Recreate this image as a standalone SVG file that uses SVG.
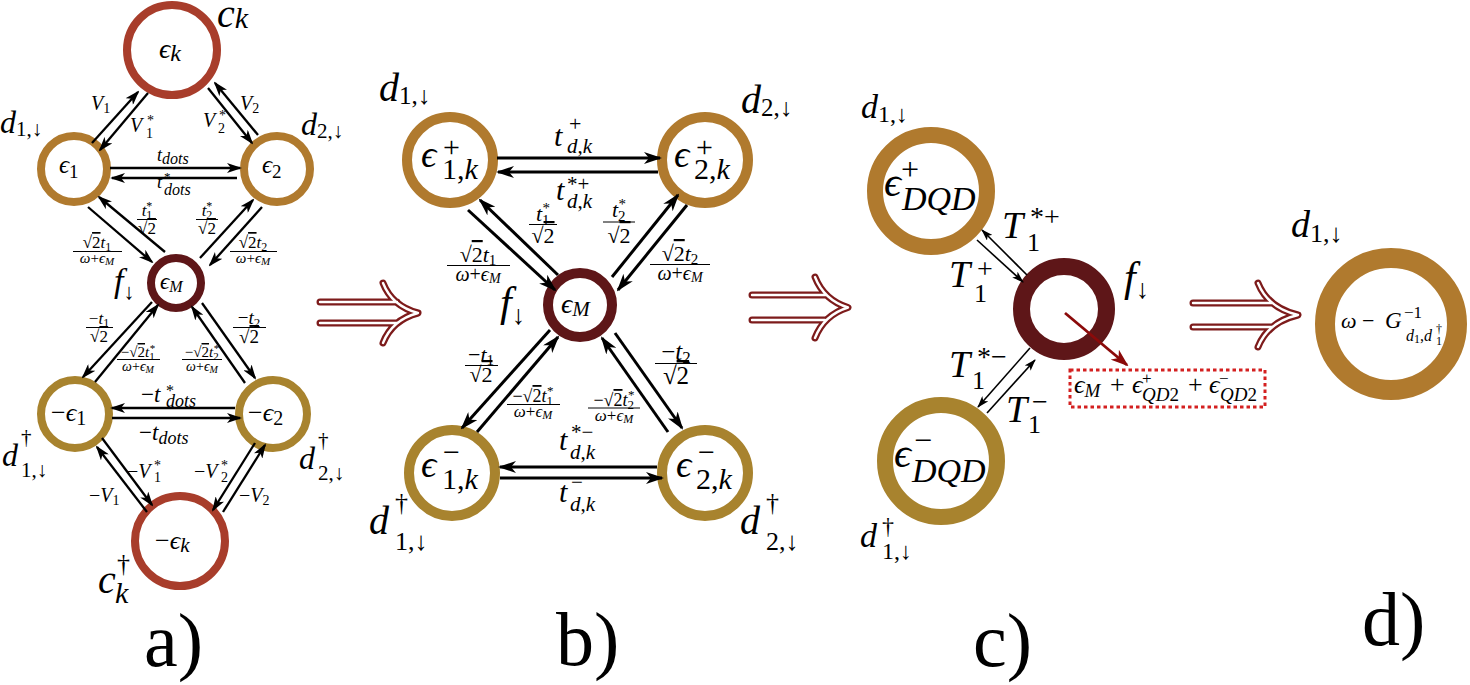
<svg xmlns="http://www.w3.org/2000/svg" width="1470" height="685" viewBox="0 0 1470 685">
<style>
.i{font-family:"Liberation Serif",serif;font-style:italic}
.u{font-family:"Liberation Serif",serif;font-style:normal}
.ov{text-decoration:overline}
.ring{fill:none}
.g1{stroke:#b07a2e}
.g2{stroke:#a8832e}
.rd{stroke:#a83d2b}
.mr{stroke:#5e1618}
.ca line{stroke:#000;stroke-width:2.3;marker-end:url(#ha)}
.cb line{stroke:#000;stroke-width:3;marker-end:url(#hb)}
.cc line{stroke:#000;stroke-width:1.6;marker-end:url(#hc)}
.bar{stroke:#000;stroke-width:1}
.imp .o{fill:none;stroke:#7d1b1b;stroke-width:7;stroke-linecap:round;stroke-linejoin:round}
.imp .w{fill:none;stroke:#fff;stroke-width:2.4;stroke-linecap:round;stroke-linejoin:round}
</style>
<defs>
<marker id="ha" viewBox="0 0 15 10" refX="13" refY="5" markerWidth="15" markerHeight="10" markerUnits="userSpaceOnUse" orient="auto"><path d="M0,0 L15,5 L0,10 L4,5 z"/></marker>
<marker id="hb" viewBox="0 0 18 12" refX="16" refY="6" markerWidth="18" markerHeight="12" markerUnits="userSpaceOnUse" orient="auto"><path d="M0,0 L18,6 L0,12 L5,6 z"/></marker>
<marker id="hc" viewBox="0 0 12 8" refX="11" refY="4" markerWidth="12" markerHeight="8" markerUnits="userSpaceOnUse" orient="auto"><path d="M0,0 L12,4 L0,8 L3,4 z"/></marker>
<marker id="hr" viewBox="0 0 18 13" refX="16" refY="6.5" markerWidth="18" markerHeight="13" markerUnits="userSpaceOnUse" orient="auto"><path d="M0,0 L18,6.5 L0,13 L5,6.5 z" fill="#8b0a0a"/></marker>
</defs>

<!-- ================= PANEL A ================= -->
<g id="a-ck">
<circle class="ring rd" cx="172" cy="50" r="45" stroke-width="8"/>
<text class="i" x="159" y="58" font-size="28">ϵ<tspan class="i" font-size="24" dy="3">k</tspan></text>
<text class="i" x="217" y="27" font-size="40">c<tspan class="i" font-size="30" dy="1">k</tspan></text>
</g>
<g id="a-e1">
<circle class="ring g1" cx="74" cy="169" r="33" stroke-width="8"/>
<text class="i" x="59" y="173" font-size="25">ϵ<tspan class="u" font-size="19" dy="5">1</tspan></text>
<text class="i" x="0" y="133" font-size="32">d<tspan class="u" font-size="21" dy="3">1,↓</tspan></text>
</g>
<g id="a-e2">
<circle class="ring g1" cx="277" cy="169" r="33" stroke-width="8"/>
<text class="i" x="262" y="173" font-size="25">ϵ<tspan class="u" font-size="19" dy="5">2</tspan></text>
<text class="i" x="301" y="135" font-size="32">d<tspan class="u" font-size="21" dy="3">2,↓</tspan></text>
</g>
<g id="a-eM">
<circle class="ring mr" cx="176" cy="283" r="25" stroke-width="8"/>
<text class="i" x="160" y="289" font-size="23">ϵ<tspan class="i" font-size="16" dy="3">M</tspan></text>
<text class="i" x="114" y="292" font-size="34">f<tspan class="u" font-size="22" dy="7">↓</tspan></text>
</g>
<g id="a-me1">
<circle class="ring g2" cx="75" cy="414" r="34" stroke-width="8"/>
<text class="u" x="51" y="421" font-size="26">−<tspan class="i">ϵ</tspan><tspan class="u" font-size="20" dy="4">1</tspan></text>
<text class="i" x="2" y="466" font-size="32">d</text>
<text class="u" x="21" y="444" font-size="21">†</text>
<text class="u" x="21" y="477" font-size="21">1,↓</text>
</g>
<g id="a-me2">
<circle class="ring g2" cx="273" cy="414" r="34" stroke-width="8"/>
<text class="u" x="248" y="421" font-size="26">−<tspan class="i">ϵ</tspan><tspan class="u" font-size="20" dy="4">2</tspan></text>
<text class="i" x="299" y="469" font-size="32">d</text>
<text class="u" x="318" y="447" font-size="21">†</text>
<text class="u" x="318" y="480" font-size="21">2,↓</text>
</g>
<g id="a-mek">
<circle class="ring rd" cx="180" cy="541" r="45" stroke-width="8"/>
<text class="u" x="155" y="549" font-size="26">−<tspan class="i">ϵ</tspan><tspan class="i" font-size="21" dy="3">k</tspan></text>
<text class="i" x="98" y="593" font-size="40">c</text>
<text class="u" x="117" y="572" font-size="26">†</text>
<text class="i" x="115" y="603" font-size="30">k</text>
</g>

<!-- ================= PANEL B ================= -->
<g id="b-e1p">
<circle class="ring g1" cx="450" cy="160" r="43" stroke-width="10"/>
<text class="i" x="421" y="167" font-size="38">ϵ</text>
<text class="u" x="443" y="157" font-size="30">+</text>
<text class="u" x="442" y="179" font-size="30">1,<tspan class="i">k</tspan></text>
<text class="i" x="379" y="101" font-size="40">d<tspan class="u" font-size="25" dy="3">1,↓</tspan></text>
</g>
<g id="b-e2p">
<circle class="ring g1" cx="705" cy="160" r="43" stroke-width="10"/>
<text class="i" x="674" y="167" font-size="38">ϵ</text>
<text class="u" x="696" y="157" font-size="30">+</text>
<text class="u" x="694" y="179" font-size="30">2,<tspan class="i">k</tspan></text>
<text class="i" x="741" y="113" font-size="40">d<tspan class="u" font-size="25" dy="3">2,↓</tspan></text>
</g>
<g id="b-eM">
<circle class="ring mr" cx="580" cy="305" r="32" stroke-width="10"/>
<text class="i" x="561" y="313" font-size="28">ϵ<tspan class="i" font-size="21" dy="3">M</tspan></text>
<text class="i" x="500" y="316" font-size="42">f<tspan class="u" font-size="27" dy="8">↓</tspan></text>
</g>
<g id="b-e1m">
<circle class="ring g2" cx="452" cy="473" r="43" stroke-width="10"/>
<text class="i" x="421" y="477" font-size="38">ϵ</text>
<text class="u" x="443" y="462" font-size="30">−</text>
<text class="u" x="442" y="489" font-size="30">1,<tspan class="i">k</tspan></text>
<text class="i" x="369" y="534" font-size="40">d</text>
<text class="u" x="395" y="511" font-size="26">†</text>
<text class="u" x="395" y="550" font-size="26">1,↓</text>
</g>
<g id="b-e2m">
<circle class="ring g2" cx="705" cy="473" r="43" stroke-width="10"/>
<text class="i" x="676" y="477" font-size="38">ϵ</text>
<text class="u" x="698" y="462" font-size="30">−</text>
<text class="u" x="696" y="489" font-size="30">2,<tspan class="i">k</tspan></text>
<text class="i" x="740" y="534" font-size="40">d</text>
<text class="u" x="766" y="511" font-size="26">†</text>
<text class="u" x="766" y="550" font-size="26">2,↓</text>
</g>

<!-- ================= PANEL C ================= -->
<g id="c-ep">
<circle class="ring g1" cx="931" cy="191" r="56" stroke-width="16"/>
<text class="i" x="884" y="196" font-size="42">ϵ</text>
<text class="u" x="901" y="180" font-size="32">+</text>
<text class="i" x="902" y="210" font-size="34">DQD</text>
<text class="i" x="861" y="118" font-size="34">d<tspan class="u" font-size="24" dy="4">1,↓</tspan></text>
</g>
<g id="c-f">
<circle class="ring mr" cx="1064" cy="309" r="42.5" stroke-width="17"/>
<text class="i" x="1124" y="291" font-size="42">f<tspan class="u" font-size="27" dy="7">↓</tspan></text>
</g>
<g id="c-em">
<circle class="ring g2" cx="941" cy="461" r="56" stroke-width="16"/>
<text class="i" x="894" y="467" font-size="42">ϵ</text>
<text class="u" x="914" y="451" font-size="32">−</text>
<text class="i" x="912" y="482" font-size="34">DQD</text>
<text class="i" x="860" y="547" font-size="34">d</text>
<text class="u" x="882" y="534" font-size="24">†</text>
<text class="u" x="882" y="559" font-size="24">1,↓</text>
</g>
<g id="c-sum">
<rect x="1070" y="370" width="195" height="37" fill="none" stroke="#d42020" stroke-width="3" stroke-dasharray="3.5,3"/>
<text class="i" x="1074" y="393" font-size="26">ϵ<tspan class="i" font-size="19" dy="4">M</tspan></text>
<text class="u" x="1110" y="393" font-size="26">+</text>
<text class="i" x="1132" y="393" font-size="26">ϵ</text>
<text class="u" x="1142" y="384" font-size="17">+</text>
<text class="i" x="1142" y="401" font-size="19">QD<tspan class="u">2</tspan></text>
<text class="u" x="1188" y="393" font-size="26">+</text>
<text class="i" x="1209" y="393" font-size="26">ϵ</text>
<text class="u" x="1219" y="384" font-size="17">−</text>
<text class="i" x="1220" y="401" font-size="19">QD<tspan class="u">2</tspan></text>
</g>

<!-- ================= PANEL D ================= -->
<g id="d-node">
<circle class="ring g1" cx="1391" cy="324" r="66" stroke-width="20"/>
<text class="i" x="1341" y="328" font-size="22">ω</text>
<text class="u" x="1362" y="328" font-size="22">−</text>
<text class="i" x="1385" y="328" font-size="23">G</text>
<text class="u" x="1404" y="318" font-size="17">−1</text>
<text class="i" x="1406" y="341" font-size="16">d<tspan class="u" font-size="12" dy="2">1</tspan><tspan class="u" dy="-2">,</tspan><tspan class="i">d</tspan></text>
<text class="u" x="1436" y="333" font-size="12">†</text>
<text class="u" x="1436" y="345" font-size="12">1</text>
<text class="i" x="1291" y="237" font-size="38">d<tspan class="u" font-size="26" dy="5">1,↓</tspan></text>
</g>

<!-- panel captions -->
<g id="captions" font-size="76">
<text class="u" x="144" y="666">a)</text>
<text class="u" x="556" y="665">b)</text>
<text class="u" x="973" y="666">c)</text>
<text class="u" x="1362" y="645">d)</text>
</g>

<!-- implies arrows -->
<g id="implies" class="imp">
<path class="o" d="M320,302 H397 M320,323 H397 M383,283 Q392,306 418,313 Q392,320 383,343"/>
<path class="w" d="M320,302 H397 M320,323 H397 M383,283 Q392,306 418,313 Q392,320 383,343"/>
<path class="o" d="M752,295 H825 M752,320 H825 M815,277 Q824,300 848,307.5 Q824,315 815,338"/>
<path class="w" d="M752,295 H825 M752,320 H825 M815,277 Q824,300 848,307.5 Q824,315 815,338"/>
<path class="o" d="M1193,303 H1272 M1193,327 H1272 M1258,283 Q1268,308 1298,315 Q1268,322 1258,347"/>
<path class="w" d="M1193,303 H1272 M1193,327 H1272 M1258,283 Q1268,308 1298,315 Q1268,322 1258,347"/>
</g>

<!-- connectors -->
<g id="connectors">
<g class="ca">
<line x1="92" y1="143" x2="138" y2="92"/>
<line x1="148" y1="93" x2="100" y2="150"/>
<line x1="258" y1="135" x2="215" y2="83"/>
<line x1="208" y1="88" x2="252" y2="143"/>
<line x1="110" y1="168" x2="240" y2="168"/>
<line x1="237" y1="178" x2="112" y2="178"/>
<line x1="88" y1="207" x2="152" y2="262"/>
<line x1="165" y1="252" x2="99" y2="197"/>
<line x1="200" y1="258" x2="253" y2="200"/>
<line x1="262" y1="207" x2="210" y2="265"/>
<line x1="152" y1="302" x2="83" y2="377"/>
<line x1="95" y1="382" x2="158" y2="305"/>
<line x1="202" y1="303" x2="255" y2="378"/>
<line x1="245" y1="383" x2="192" y2="307"/>
<line x1="235" y1="408" x2="112" y2="408"/>
<line x1="112" y1="418" x2="240" y2="418"/>
<line x1="102" y1="438" x2="152" y2="505"/>
<line x1="147" y1="512" x2="97" y2="447"/>
<line x1="255" y1="443" x2="213" y2="510"/>
<line x1="223" y1="512" x2="265" y2="445"/>
</g>
<g class="cb">
<line x1="497" y1="158" x2="660" y2="158"/>
<line x1="658" y1="172" x2="498" y2="172"/>
<line x1="468" y1="210" x2="555" y2="290"/>
<line x1="558" y1="275" x2="480" y2="200"/>
<line x1="612" y1="277" x2="678" y2="195"/>
<line x1="687" y1="205" x2="618" y2="290"/>
<line x1="550" y1="330" x2="462" y2="428"/>
<line x1="477" y1="432" x2="558" y2="337"/>
<line x1="615" y1="333" x2="682" y2="428"/>
<line x1="668" y1="432" x2="602" y2="338"/>
<line x1="657" y1="467" x2="500" y2="467"/>
<line x1="500" y1="478" x2="662" y2="478"/>
</g>
<g class="cc">
<line x1="1027" y1="275" x2="982" y2="230"/>
<line x1="977" y1="240" x2="1023" y2="282"/>
<line x1="1030" y1="348" x2="978" y2="407"/>
<line x1="987" y1="413" x2="1035" y2="360"/>
</g>
<line x1="1065" y1="313" x2="1127" y2="365" stroke="#8b0a0a" stroke-width="2.8" marker-end="url(#hr)"/>
</g>

<!-- edge labels -->
<g id="edge-labels">
<!-- panel a -->
<text class="i" x="91" y="110" font-size="20">V<tspan class="u" font-size="14" dy="3">1</tspan></text>
<text class="i" x="130" y="132" font-size="20">V</text><text class="u" x="147" y="125" font-size="14">*</text><text class="u" x="146" y="138" font-size="14">1</text>
<text class="i" x="240" y="110" font-size="20">V<tspan class="u" font-size="14" dy="3">2</tspan></text>
<text class="i" x="203" y="127" font-size="20">V</text><text class="u" x="219" y="120" font-size="14">*</text><text class="u" x="218" y="133" font-size="14">2</text>
<text class="i" x="157" y="161" font-size="18">t<tspan class="i" font-size="16" dy="3">dots</tspan></text>
<text class="i" x="157" y="188" font-size="18">t</text><text class="u" x="164" y="181" font-size="13">*</text><text class="i" x="164" y="195" font-size="16">dots</text>

<g font-size="17" text-anchor="middle">
<text class="i" x="147" y="216">t<tspan class="u" font-size="12" dy="3">1</tspan><tspan class="u" font-size="12" dx="-6" dy="-9">*</tspan></text>
<line class="bar" x1="137" y1="219.5" x2="157" y2="219.5"/>
<text class="u" x="147" y="234">√<tspan class="u ov">2</tspan></text>
<text class="i" x="207" y="216">t<tspan class="u" font-size="12" dy="3">2</tspan><tspan class="u" font-size="12" dx="-6" dy="-9">*</tspan></text>
<line class="bar" x1="196" y1="219.5" x2="218" y2="219.5"/>
<text class="u" x="207" y="234">√<tspan class="u ov">2</tspan></text>

<text class="u" x="97" y="248">√<tspan class="u ov">2</tspan><tspan class="i">t</tspan><tspan class="u" font-size="12" dy="3">1</tspan></text>
<line class="bar" x1="73" y1="251.5" x2="122" y2="251.5"/>
<text class="i" x="97" y="263" font-size="15">ω<tspan class="u">+</tspan><tspan class="i">ϵ</tspan><tspan class="i" font-size="11" dy="2">M</tspan></text>
<text class="u" x="253" y="248">√<tspan class="u ov">2</tspan><tspan class="i">t</tspan><tspan class="u" font-size="12" dy="3">2</tspan></text>
<line class="bar" x1="230" y1="251.5" x2="277" y2="251.5"/>
<text class="i" x="253" y="263" font-size="15">ω<tspan class="u">+</tspan><tspan class="i">ϵ</tspan><tspan class="i" font-size="11" dy="2">M</tspan></text>

<text class="u" x="99" y="324">−<tspan class="i">t</tspan><tspan class="u" font-size="12" dy="3">1</tspan></text>
<line class="bar" x1="86" y1="327.5" x2="113" y2="327.5"/>
<text class="u" x="99" y="342">√<tspan class="u ov">2</tspan></text>
<text class="u" x="249" y="324" font-size="19">−<tspan class="i">t</tspan><tspan class="u" font-size="13" dy="3">2</tspan></text>
<line class="bar" x1="233" y1="327.5" x2="266" y2="327.5"/>
<text class="u" x="249" y="343" font-size="19">√<tspan class="u ov">2</tspan></text>

<text class="u" x="138" y="357" font-size="15">−√<tspan class="u ov">2</tspan><tspan class="i">t</tspan><tspan class="u" font-size="11" dy="3">1</tspan><tspan class="u" font-size="11" dx="-5" dy="-8">*</tspan></text>
<line class="bar" x1="117" y1="359.5" x2="160" y2="359.5"/>
<text class="i" x="138" y="371" font-size="14">ω<tspan class="u">+</tspan><tspan class="i">ϵ</tspan><tspan class="i" font-size="10" dy="2">M</tspan></text>
<text class="u" x="202" y="357" font-size="15">−√<tspan class="u ov">2</tspan><tspan class="i">t</tspan><tspan class="u" font-size="11" dy="3">2</tspan><tspan class="u" font-size="11" dx="-5" dy="-8">*</tspan></text>
<line class="bar" x1="182" y1="359.5" x2="222" y2="359.5"/>
<text class="i" x="202" y="371" font-size="14">ω<tspan class="u">+</tspan><tspan class="i">ϵ</tspan><tspan class="i" font-size="10" dy="2">M</tspan></text>
</g>

<text class="u" x="141" y="402" font-size="23">−<tspan class="i">t</tspan></text><text class="u" x="166" y="396" font-size="16">*</text><text class="i" x="166" y="407" font-size="18">dots</text>
<text class="u" x="139" y="440" font-size="23">−<tspan class="i">t</tspan><tspan class="i" font-size="18" dy="4">dots</tspan></text>

<text class="u" x="127" y="478" font-size="20">−<tspan class="i">V</tspan></text><text class="u" x="154" y="470" font-size="14">*</text><text class="u" x="154" y="482" font-size="14">1</text>
<text class="u" x="89" y="502" font-size="20">−<tspan class="i">V</tspan><tspan class="u" font-size="14" dy="3">1</tspan></text>
<text class="u" x="194" y="478" font-size="20">−<tspan class="i">V</tspan></text><text class="u" x="221" y="470" font-size="14">*</text><text class="u" x="221" y="482" font-size="14">2</text>
<text class="u" x="239" y="502" font-size="20">−<tspan class="i">V</tspan><tspan class="u" font-size="14" dy="3">2</tspan></text>

<!-- panel b -->
<text class="i" x="554" y="146" font-size="30">t</text><text class="u" x="569" y="131" font-size="22">+</text><text class="i" x="567" y="153" font-size="21">d<tspan class="u">,</tspan><tspan class="i">k</tspan></text>
<text class="i" x="556" y="200" font-size="30">t</text><text class="u" x="567" y="191" font-size="21">*+</text><text class="i" x="567" y="208" font-size="21">d<tspan class="u">,</tspan><tspan class="i">k</tspan></text>
<text class="i" x="559" y="450" font-size="30">t</text><text class="u" x="571" y="439" font-size="21">*−</text><text class="i" x="570" y="459" font-size="21">d<tspan class="u">,</tspan><tspan class="i">k</tspan></text>
<text class="i" x="559" y="502" font-size="30">t</text><text class="u" x="571" y="489" font-size="21">−</text><text class="i" x="570" y="511" font-size="21">d<tspan class="u">,</tspan><tspan class="i">k</tspan></text>

<g font-size="22" text-anchor="middle">
<text class="i" x="543" y="221">t<tspan class="u" font-size="15" dy="4">1</tspan><tspan class="u" font-size="15" dx="-7" dy="-12">*</tspan></text>
<line class="bar" x1="529" y1="224.5" x2="557" y2="224.5" stroke-width="1.3"/>
<text class="u" x="543" y="243">√<tspan class="u ov">2</tspan></text>
<text class="i" x="619" y="217">t<tspan class="u" font-size="15" dy="4">2</tspan><tspan class="u" font-size="15" dx="-7" dy="-12">*</tspan></text>
<line class="bar" x1="603" y1="222" x2="635" y2="222" stroke-width="1.3"/>
<text class="u" x="619" y="243">√<tspan class="u ov">2</tspan></text>

<text class="u" x="478" y="262">√<tspan class="u ov">2</tspan><tspan class="i">t</tspan><tspan class="u" font-size="15" dy="3">1</tspan></text>
<line class="bar" x1="447" y1="265.5" x2="510" y2="265.5" stroke-width="1.3"/>
<text class="i" x="478" y="281" font-size="20">ω<tspan class="u">+</tspan><tspan class="i">ϵ</tspan><tspan class="i" font-size="14" dy="2">M</tspan></text>
<text class="u" x="680" y="261">√<tspan class="u ov">2</tspan><tspan class="i">t</tspan><tspan class="u" font-size="15" dy="3">2</tspan></text>
<line class="bar" x1="650" y1="264.5" x2="710" y2="264.5" stroke-width="1.3"/>
<text class="i" x="680" y="280" font-size="20">ω<tspan class="u">+</tspan><tspan class="i">ϵ</tspan><tspan class="i" font-size="14" dy="2">M</tspan></text>

<text class="u" x="481" y="362">−<tspan class="i">t</tspan><tspan class="u" font-size="15" dy="3">1</tspan></text>
<line class="bar" x1="465" y1="365.5" x2="498" y2="365.5" stroke-width="1.3"/>
<text class="u" x="481" y="382">√<tspan class="u ov">2</tspan></text>
<text class="u" x="676" y="360" font-size="25">−<tspan class="i">t</tspan><tspan class="u" font-size="17" dy="3">2</tspan></text>
<line class="bar" x1="655" y1="363.5" x2="697" y2="363.5" stroke-width="1.3"/>
<text class="u" x="676" y="384" font-size="25">√<tspan class="u ov">2</tspan></text>

<text class="u" x="533" y="402" font-size="18">−√<tspan class="u ov">2</tspan><tspan class="i">t</tspan><tspan class="u" font-size="13" dy="3">1</tspan><tspan class="u" font-size="13" dx="-6" dy="-10">*</tspan></text>
<line class="bar" x1="507" y1="404.5" x2="560" y2="404.5"/>
<text class="i" x="533" y="417" font-size="17">ω<tspan class="u">+</tspan><tspan class="i">ϵ</tspan><tspan class="i" font-size="12" dy="2">M</tspan></text>
<text class="u" x="614" y="406" font-size="18">−√<tspan class="u ov">2</tspan><tspan class="i">t</tspan><tspan class="u" font-size="13" dy="3">2</tspan><tspan class="u" font-size="13" dx="-6" dy="-10">*</tspan></text>
<line class="bar" x1="588" y1="408" x2="640" y2="408"/>
<text class="i" x="614" y="421" font-size="17">ω<tspan class="u">+</tspan><tspan class="i">ϵ</tspan><tspan class="i" font-size="12" dy="2">M</tspan></text>
</g>

<!-- panel c -->
<text class="i" x="1002" y="238" font-size="38">T</text><text class="u" x="1030" y="226" font-size="28">*+</text><text class="u" x="1027" y="251" font-size="26">1</text>
<text class="i" x="949" y="287" font-size="38">T</text><text class="u" x="977" y="278" font-size="28">+</text><text class="u" x="974" y="302" font-size="26">1</text>
<text class="i" x="949" y="377" font-size="38">T</text><text class="u" x="977" y="366" font-size="28">*−</text><text class="u" x="972" y="389" font-size="26">1</text>
<text class="i" x="1006" y="422" font-size="38">T</text><text class="u" x="1032" y="411" font-size="28">−</text><text class="u" x="1028" y="433" font-size="26">1</text>
</g>
</svg>
